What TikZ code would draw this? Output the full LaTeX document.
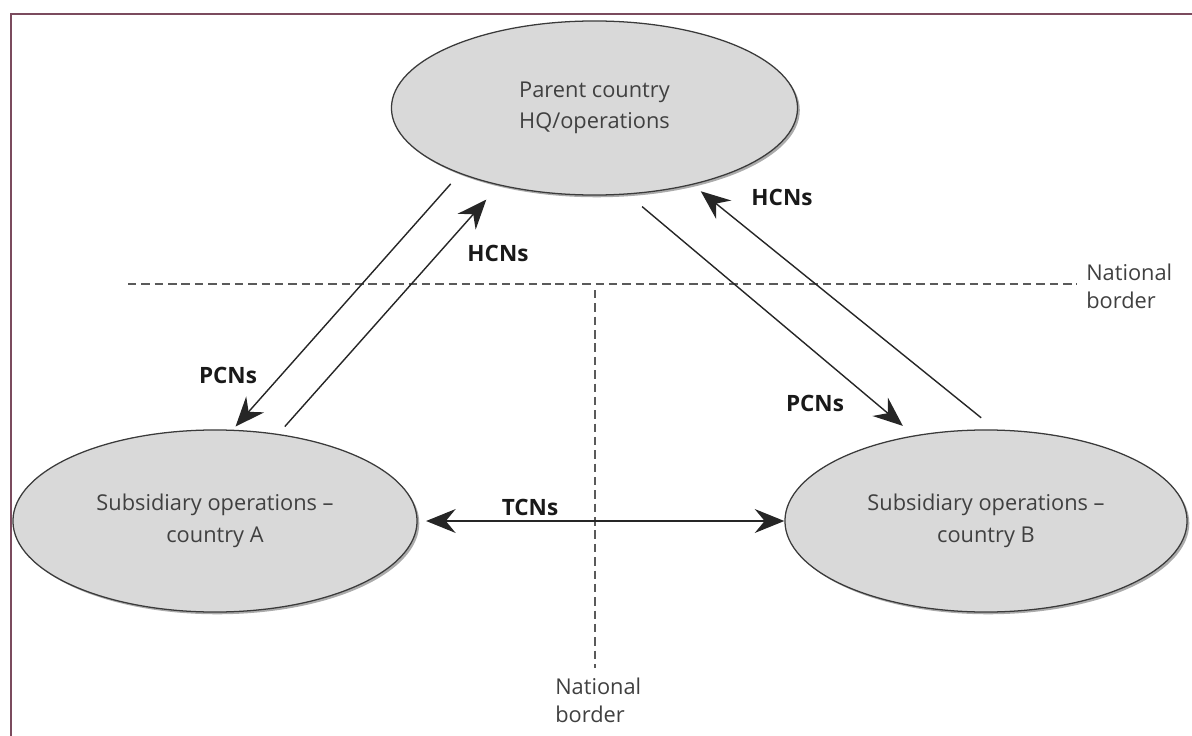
\documentclass[tikz,border=0pt]{standalone}
\usepackage{fontspec}
\setmainfont{Open Sans}
\usepackage{tikz}
\usetikzlibrary{
  arrows.meta,
  shapes.geometric,
  shadows,
  calc
}
\definecolor{opFill}{HTML}{D9D9D9}
\definecolor{opLine}{HTML}{3A3A3A}
\definecolor{opText}{HTML}{404040}
\definecolor{opFrame}{HTML}{7B4B5E}
\definecolor{opBorder}{HTML}{5A5A5A}
\tikzset{
  opnode/.style={
    draw=opLine, ellipse, fill=opFill, line width=0.9pt, align=center,
    text=opText, font=\fontsize{15.5}{22.5}\selectfont,
    drop shadow={shadow xshift=1.6pt, shadow yshift=-1.6pt, fill=black!55, opacity=0.6}
  },
  staff/.style={-{Stealth[length=21pt, width=17pt, inset=7pt]}, line width=1pt, black!85},
  twoway/.style={{Stealth[length=21pt, width=17pt, inset=7pt]}-{Stealth[length=21pt, width=17pt, inset=7pt]}, line width=1pt, black!85},
  tag/.style={font=\fontsize{16}{19}\selectfont\bfseries, text=black!90, inner sep=1pt},
  border/.style={dashed, dash pattern=on 6pt off 3.5pt, line width=1.1pt, opBorder},
  bordertag/.style={font=\fontsize{15.5}{20}\selectfont, text=opText, align=left, inner sep=0pt}
}
\begin{document}
\begin{tikzpicture}[x=0.025cm, y=-0.025cm]
  \useasboundingbox (0,0) rectangle (1192,736);
  % frame
  \draw[opFrame, line width=1.5pt] (11,736) -- (11,14) -- (1192,14);

  % national borders
  \coordinate (hb1) at (128,284);
  \coordinate (hb2) at (1077,284);
  \coordinate (vb1) at (595,290);
  \coordinate (vb2) at (595,668);
  \draw[border] (hb1) -- (hb2);
  \draw[border] (vb1) -- (vb2);
  \node[bordertag, anchor=west] (nbr) at (1086,286) {National\\border};
  \node[bordertag, anchor=north west] (nbb) at (555,678) {National\\border};

  % operations
  \node[opnode, minimum width=10.15cm, minimum height=4.35cm] (hq) at (594.5,108) {Parent country\\HQ/operations};
  \node[opnode, minimum width=10.1cm, minimum height=4.55cm] (subA) at (215,521) {Subsidiary operations --\\country A};
  \node[opnode, minimum width=10.05cm, minimum height=4.55cm] (subB) at (986,521) {Subsidiary operations --\\country B};

  % staff flows
  \draw[staff, shorten <=9.7pt, shorten >=3pt] (hq.206.4) -- (subA.79.3);
  \draw[staff, shorten <=7pt, shorten >=13.5pt] (subA.54.6) -- (hq.219);
  \draw[staff, shorten <=13.4pt, shorten >=10.5pt] (hq.291.9) -- (subB.130.8);
  \draw[staff, shorten <=13.2pt, shorten >=7.3pt] (subB.84.7) -- (hq.322);
  \draw[twoway, shorten <=6pt] (subA.east) -- (subB.west);

  % labels
  \node[tag] (pcnA) at (228,375) {PCNs};
  \node[tag] (hcnA) at (498,253) {HCNs};
  \node[tag] (pcnB) at (815,403) {PCNs};
  \node[tag] (hcnB) at (782,197) {HCNs};
  \node[tag] (tcn) at (530,507) {TCNs};
\end{tikzpicture}
\end{document}
